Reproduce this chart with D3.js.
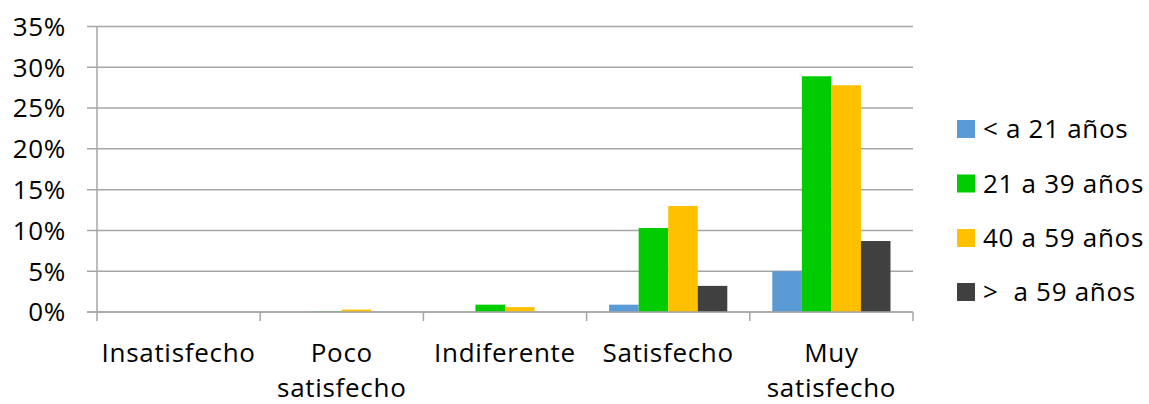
<!DOCTYPE html>
<html><head><meta charset="utf-8">
<script src="https://cdn.jsdelivr.net/npm/d3@7"></script>
<style>body{margin:0;background:#fff}svg{display:block}text{font-family:"Open Sans",Lato,sans-serif;fill:#000;letter-spacing:0.7px}</style>
</head><body>
<svg id="c" width="1149" height="404"></svg>
<script>
const categories = [["Insatisfecho"],["Poco","satisfecho"],["Indiferente"],["Satisfecho"],["Muy","satisfecho"]];
const seriesNames = ["< a 21 años","21 a 39 años","40 a 59 años",">  a 59 años"];
const seriesColors = ["#5b9bd5","#00cc00","#ffc000","#404040"];
const menos21 = [0, 0, 0, 0.9, 5.0];
const de21a39 = [0, 0.05, 0.9, 10.3, 28.9];
const de40a59 = [0, 0.3, 0.6, 13.0, 27.8];
const mas59   = [0, 0, 0, 3.2, 8.7];
const yTicks = [0,5,10,15,20,25,30,35];

const seriesValues = [menos21, de21a39, de40a59, mas59];
const svg = d3.select("#c");
const L = 97, R = 913, T = 26.5, B = 312;
const catKeys = categories.map((c,i)=>i);
const x0 = d3.scaleBand().domain(catKeys).range([L,R]).padding(0);
const x1 = d3.scaleBand().domain(d3.range(4)).range([22.5, x0.bandwidth()-22.5]).padding(0);
const y = d3.scaleLinear().domain([0,35]).range([B,T]);

svg.append("g").selectAll("line").data(yTicks).join("line")
  .attr("x1", L-10).attr("x2", R).attr("y1", d=>y(d)).attr("y2", d=>y(d))
  .attr("stroke", "#a6a6a6").attr("stroke-width", 1.5);
svg.append("g").selectAll("text").data(yTicks).join("text")
  .attr("x", 66).attr("y", d=>y(d)).attr("dy","0.36em").attr("text-anchor","end")
  .style("font-size","26px").text(d=>d+"%");

const g = svg.append("g");
seriesValues.forEach((vals,si)=>{
  g.append("g").selectAll("rect").data(vals).join("rect")
   .attr("x",(d,i)=>x0(i)+x1(si)).attr("width",x1.bandwidth())
   .attr("y",d=>y(d)).attr("height",d=>B-y(d))
   .attr("fill",seriesColors[si]);
});

svg.append("line").attr("x1",L).attr("x2",L).attr("y1",T).attr("y2",B+9).attr("stroke","#a6a6a6").attr("stroke-width",1.5);
svg.append("line").attr("x1",L-10).attr("x2",R).attr("y1",B).attr("y2",B).attr("stroke","#a6a6a6").attr("stroke-width",1.5);
const bounds = catKeys.map(i=>x0(i)+x0.bandwidth());
svg.append("g").selectAll("line").data(bounds).join("line")
  .attr("x1",d=>d).attr("x2",d=>d).attr("y1",B).attr("y2",B+9).attr("stroke","#a6a6a6").attr("stroke-width",1.5);

const xl = svg.append("g").selectAll("text").data(categories).join("text")
  .attr("x",(d,i)=>x0(i)+x0.bandwidth()/2).attr("y",362).attr("text-anchor","middle").style("font-size","26px");
xl.each(function(lines){
  const t = d3.select(this);
  lines.forEach((ln,k)=>t.append("tspan").attr("x",t.attr("x")).attr("dy",k?35:0).text(ln));
});

const ly = [129,183.5,238,292];
const lg = svg.append("g").selectAll("g").data(seriesNames).join("g")
  .attr("transform",(d,i)=>`translate(957,${ly[i]})`);
lg.append("rect").attr("x",0).attr("y",-9).attr("width",18).attr("height",18).attr("fill",(d,i)=>seriesColors[i]);
lg.append("text").attr("x",26).attr("y",0).attr("dy","0.36em").style("font-size","26px").style("white-space","pre").attr("xml:space","preserve").text(d=>d);
</script>
</body></html>
